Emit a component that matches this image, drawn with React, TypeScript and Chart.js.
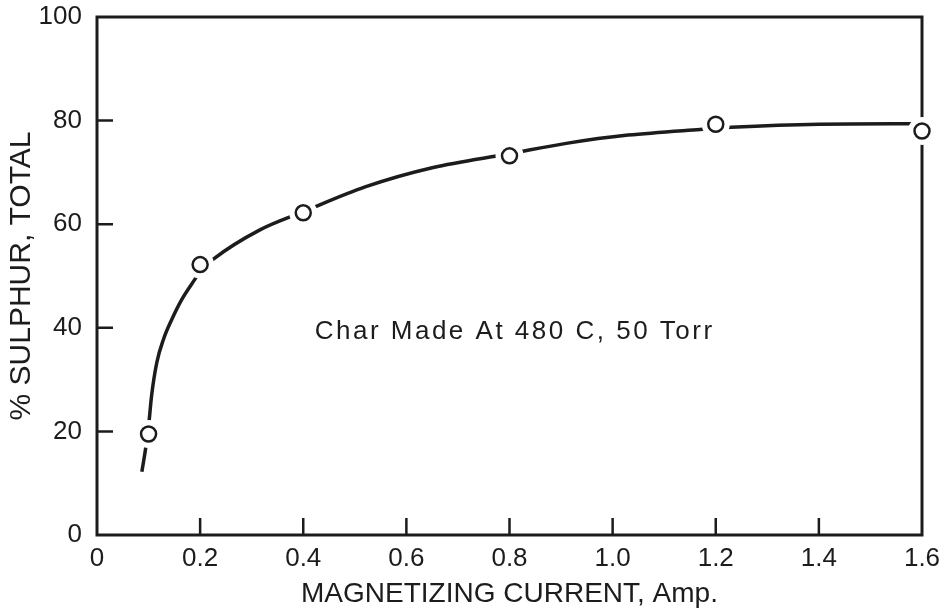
import { useEffect, useRef } from "react";
import { Chart, registerables } from "chart.js";

Chart.register(...registerables);

// Measured points
const pointX = [0.1, 0.2, 0.4, 0.8, 1.2, 1.6];
const pointY = [19.5, 52.2, 62.2, 73.2, 79.3, 78.0];

// Hand-drawn smooth curve
const curveX = [0.087, 0.094, 0.1, 0.106, 0.116, 0.129, 0.145, 0.164, 0.19, 0.2, 0.225, 0.316, 0.4, 0.52, 0.65, 0.8, 0.91, 1.03, 1.17, 1.23, 1.4, 1.6];
const curveY = [12.2, 16.5, 21, 27, 33.3, 37.8, 41.6, 45.4, 49.4, 50.9, 53.2, 58.9, 62.4, 67.2, 70.9, 73.6, 75.6, 77.2, 78.3, 78.7, 79.3, 79.4];

const xTickLabels = ["0", "0.2", "0.4", "0.6", "0.8", "1.0", "1.2", "1.4", "1.6"];
const yTickLabels = ["0", "20", "40", "60", "80", "100"];
const innerXTicks = [0.2, 0.4, 0.6, 0.8, 1.0, 1.2, 1.4];
const innerYTicks = [20, 40, 60, 80];

const xTitle = "MAGNETIZING CURRENT, Amp.";
const yTitle = "% SULPHUR, TOTAL";
const noteText = "Char Made At 480 C, 50 Torr";
const noteX = 0.81;
const noteY = 39.2;

const INK = "#1c1c1c";
const FONT = "'Liberation Sans', Arial, sans-serif";

const framePlugin = {
  id: "frame",
  beforeDatasetsDraw(chart: any) {
    const { ctx, chartArea } = chart;
    const xs = chart.scales.x;
    const ys = chart.scales.y;
    ctx.save();
    ctx.strokeStyle = INK;
    ctx.lineWidth = 3;
    ctx.lineJoin = "miter";
    ctx.strokeRect(chartArea.left, chartArea.top, chartArea.right - chartArea.left, chartArea.bottom - chartArea.top);
    ctx.lineWidth = 2.5;
    ctx.beginPath();
    innerXTicks.forEach((v) => {
      const px = xs.getPixelForValue(v);
      ctx.moveTo(px, chartArea.bottom);
      ctx.lineTo(px, chartArea.bottom - 17);
    });
    innerYTicks.forEach((v) => {
      const py = ys.getPixelForValue(v);
      ctx.moveTo(chartArea.left, py);
      ctx.lineTo(chartArea.left + 16, py);
    });
    ctx.stroke();
    ctx.restore();
  },
  afterDatasetsDraw(chart: any) {
    const { ctx } = chart;
    const xs = chart.scales.x;
    const ys = chart.scales.y;
    // white gap around each marker (breaks curve and frame), then the hollow marker
    ctx.save();
    pointX.forEach((v, i) => {
      const px = xs.getPixelForValue(v);
      const py = ys.getPixelForValue(pointY[i]);
      ctx.fillStyle = "#ffffff";
      ctx.beginPath();
      ctx.arc(px, py, 14, 0, Math.PI * 2);
      ctx.fill();
      ctx.beginPath();
      ctx.arc(px, py, 7.5, 0, Math.PI * 2);
      ctx.lineWidth = 2.5;
      ctx.strokeStyle = INK;
      ctx.stroke();
    });
    ctx.restore();

    ctx.save();
    ctx.fillStyle = INK;
    ctx.font = `26px ${FONT}`;
    (ctx as any).letterSpacing = "2.5px";
    ctx.textAlign = "center";
    ctx.textBaseline = "middle";
    ctx.fillText(noteText, xs.getPixelForValue(noteX), ys.getPixelForValue(noteY));
    ctx.restore();
  },
};

export default function App() {
  const ref = useRef<HTMLCanvasElement>(null);

  useEffect(() => {
    if (!ref.current) return;
    const curve = curveX.map((x, i) => ({ x, y: curveY[i] }));
    const pts = pointX.map((x, i) => ({ x, y: pointY[i] }));
    const chart = new Chart(ref.current, {
      type: "scatter",
      data: {
        datasets: [
          {
            type: "scatter",
            data: pts,
            pointRadius: 7.5,
            pointBorderWidth: 2.5,
            pointBackgroundColor: "#ffffff",
            pointBorderColor: INK,
            clip: false,
            order: 1,
          } as any,
          {
            type: "line",
            data: curve,
            borderColor: INK,
            borderWidth: 3.5,
            pointRadius: 0,
            fill: false,
            showLine: true,
            cubicInterpolationMode: "monotone",
            order: 3,
          } as any,
        ],
      },
      options: {
        animation: false,
        responsive: true,
        maintainAspectRatio: false,
        layout: { autoPadding: false, padding: { top: 17, right: 24, left: 0, bottom: 0 } },
        plugins: { legend: { display: false }, tooltip: { enabled: false } },
        events: [],
        scales: {
          x: {
            type: "linear",
            min: 0,
            max: 1.6,
            grid: { display: true, drawOnChartArea: false, drawTicks: true, tickLength: 8, color: "rgba(0,0,0,0)" },
            border: { display: false },
            ticks: {
              stepSize: 0.2,
              padding: 0,
              color: INK,
              font: { family: FONT, size: 26 },
              maxRotation: 0,
              autoSkip: false,
              callback: (_v: any, i: number) => xTickLabels[i],
            },
            title: {
              display: true,
              text: xTitle,
              color: INK,
              font: { family: FONT, size: 28 },
              padding: { top: 0, bottom: 0 },
            },
            afterFit: (s: any) => {
              s.height = 76;
            },
          },
          y: {
            type: "linear",
            min: 0,
            max: 100,
            grid: { display: true, drawOnChartArea: false, drawTicks: true, tickLength: 15, color: "rgba(0,0,0,0)" },
            border: { display: false },
            ticks: {
              stepSize: 20,
              padding: 0,
              color: INK,
              font: { family: FONT, size: 26 },
              autoSkip: false,
              callback: (_v: any, i: number) => yTickLabels[i],
            },
            title: {
              display: true,
              text: yTitle,
              color: INK,
              font: { family: FONT, size: 30 },
              padding: { top: 4, bottom: 0 },
            },
            afterFit: (s: any) => {
              s.width = 97;
            },
          },
        },
      } as any,
      plugins: [framePlugin],
    });
    return () => chart.destroy();
  }, []);

  return (
    <div style={{ position: "absolute", left: 0, top: 0, width: 946, height: 611, background: "#fff" }}>
      <canvas ref={ref} />
    </div>
  );
}
